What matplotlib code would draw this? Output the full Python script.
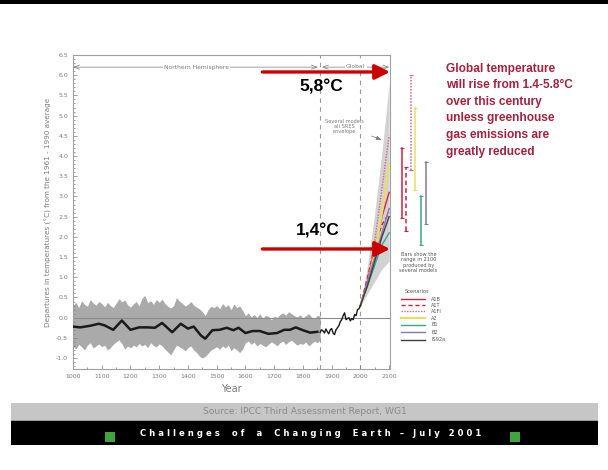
import numpy as np
import matplotlib.pyplot as plt
from matplotlib.patches import Rectangle

# Northern Hemisphere proxy reconstruction, 1000-1860 (decadal uncertainty band)
band_years = np.arange(1000, 1861, 10)
band_upper = [0.30, 0.38, 0.25, 0.42, 0.33, 0.28, 0.45, 0.36, 0.31, 0.40,
              0.35, 0.27, 0.38, 0.30, 0.25, 0.36, 0.47, 0.39, 0.44, 0.32,
              0.26, 0.34, 0.40, 0.29, 0.48, 0.55, 0.37, 0.42, 0.33, 0.45,
              0.38, 0.46, 0.35, 0.28, 0.24, 0.30, 0.50, 0.41, 0.36, 0.29,
              0.33, 0.40, 0.31, 0.26, 0.22, 0.15, 0.05, 0.20, 0.28, 0.25,
              0.30, 0.22, 0.35, 0.27, 0.32, 0.20, 0.34, 0.25, 0.29, 0.18,
              0.05, 0.12, 0.02, 0.08, 0.00, 0.10, -0.02, 0.06, 0.03, -0.05,
              0.04, 0.00, 0.08, 0.12, 0.06, 0.15, 0.10, 0.05, 0.02, 0.07,
              0.00, 0.05, 0.10, 0.02, -0.03, 0.06, 0.04]
band_lower = [-0.70, -0.78, -0.66, -0.72, -0.80, -0.68, -0.62, -0.75, -0.70, -0.65,
              -0.72, -0.68, -0.80, -0.74, -0.66, -0.60, -0.55, -0.64, -0.78, -0.70,
              -0.75, -0.68, -0.72, -0.64, -0.70, -0.66, -0.74, -0.62, -0.69, -0.72,
              -0.65, -0.70, -0.78, -0.85, -0.92, -0.80, -0.68, -0.72, -0.76, -0.82,
              -0.74, -0.70, -0.80, -0.86, -0.95, -1.00, -0.96, -0.88, -0.80, -0.76,
              -0.72, -0.78, -0.70, -0.75, -0.68, -0.82, -0.74, -0.80, -0.86, -0.78,
              -0.62, -0.58, -0.66, -0.60, -0.70, -0.64, -0.68, -0.72, -0.66, -0.60,
              -0.64, -0.70, -0.62, -0.58, -0.66, -0.60, -0.56, -0.62, -0.68, -0.64,
              -0.66, -0.60, -0.70, -0.64, -0.58, -0.62, -0.55]

# smoothed reconstruction
proxy_years = [1000, 1025, 1060, 1090, 1110, 1140, 1170, 1200, 1230, 1260, 1285,
               1310, 1345, 1375, 1400, 1420, 1445, 1460, 1485, 1510, 1535, 1558,
               1576, 1600, 1625, 1650, 1680, 1710, 1735, 1755, 1775, 1800, 1825, 1850]
proxy_smooth = [-0.22, -0.24, -0.20, -0.15, -0.19, -0.30, -0.07, -0.30, -0.24, -0.24,
                -0.25, -0.13, -0.36, -0.15, -0.27, -0.22, -0.44, -0.52, -0.31, -0.30,
                -0.25, -0.31, -0.25, -0.38, -0.33, -0.33, -0.40, -0.38, -0.30, -0.30,
                -0.24, -0.31, -0.37, -0.35]

# instrumental record
inst_years = np.arange(1860, 2001, 5)
inst_temp = [-0.36, -0.30, -0.33, -0.38, -0.28, -0.35, -0.40, -0.30, -0.27, -0.38,
             -0.42, -0.30, -0.25, -0.20, -0.10, -0.05, 0.05, 0.12, -0.05, -0.02,
             0.00, -0.08, -0.02, -0.05, 0.08, 0.05, 0.20, 0.22, 0.30]

# SRES projections
proj_years = [2000, 2025, 2050, 2075, 2100]
envelope_low = [0.30, 0.60, 0.90, 1.20, 1.40]
envelope_high = [0.30, 1.30, 2.60, 4.10, 5.80]
scenarios = ["A1B", "A1T", "A1FI", "A2", "B1", "B2", "IS92a"]
proj = {
    "A1B":   [0.30, 0.90, 1.70, 2.50, 3.10],
    "A1T":   [0.30, 1.00, 1.80, 2.30, 2.60],
    "A1FI":  [0.30, 0.90, 1.90, 3.20, 4.50],
    "A2":    [0.30, 0.80, 1.60, 2.60, 3.80],
    "B1":    [0.30, 0.80, 1.30, 1.80, 2.10],
    "B2":    [0.30, 0.90, 1.50, 2.10, 2.70],
    "IS92a": [0.30, 0.80, 1.40, 2.00, 2.50],
}
# model ranges in 2100 (bars)
bar_names = ["A1B", "A1T", "A1FI", "A2", "B1", "B2"]
bar_low = [2.47, 2.14, 3.65, 3.16, 1.80, 2.32]
bar_high = [4.20, 3.73, 6.00, 5.19, 3.01, 3.85]

colors = {"A1B": "#d4213d", "A1T": "#c8203c", "A1FI": "#d86090", "A2": "#e6de6a",
          "B1": "#3aa88a", "B2": "#8878b0", "IS92a": "#404040"}
styles = {"A1B": "-", "A1T": (0, (3, 2)), "A1FI": (0, (1, 1)), "A2": "-",
          "B1": "-", "B2": "-", "IS92a": "-"}

grey = "#7a7a7a"

fig = plt.figure(figsize=(6.08, 4.70), dpi=100)
ax = fig.add_axes([73/608, 1-369/470, 317/608, 314/470])

ax.fill_between(band_years, band_lower, band_upper, color="#aaaaaa", lw=0)
ax.axhline(0, color="#8c8c8c", lw=0.8, zorder=2)
for yr in (1860, 2000):
    ax.axvline(yr, color="#9a9a9a", lw=0.8, ls=(0, (4, 4)), zorder=1)

ax.fill_between(proj_years, envelope_low, envelope_high, color="#d2d2d2", lw=0, zorder=2)
for s in scenarios:
    ax.plot(proj_years, proj[s], color=colors[s], ls=styles[s],
            lw=1.6 if s == "A2" else 1.0, zorder=3)

ax.plot(proxy_years, proxy_smooth, color="#1a1a1a", lw=1.8, zorder=4,
        solid_joinstyle="round")
ax.plot(inst_years, inst_temp, color="#1a1a1a", lw=1.0, zorder=4)

ax.set_xlim(1000, 2103)
ax.set_ylim(-1.27, 6.5)
ax.set_xticks(np.arange(1000, 2101, 100))
ax.set_xticks(np.arange(1000, 2101, 50), minor=True)
ax.set_yticks(np.arange(-1.0, 6.51, 0.5))
ax.set_yticks(np.arange(-1.2, 6.51, 0.1), minor=True)
ax.yaxis.set_major_formatter(plt.FormatStrFormatter("%.1f"))
ax.tick_params(which="both", direction="in", color=grey, labelsize=4.5,
               labelcolor=grey, width=0.5)
ax.tick_params(which="major", length=3)
ax.tick_params(which="minor", length=1.5)
for sp in ax.spines.values():
    sp.set_color("#a0a0a0")
    sp.set_linewidth(0.8)
ax.set_xlabel("Year", fontsize=7, color=grey, labelpad=4)
ax.set_ylabel("Departures in temperatures (\u00b0C) from the 1961 - 1990 average",
              fontsize=5.2, color=grey, labelpad=3)

# region arrows along the top
arr = dict(arrowstyle="<->,head_length=0.4,head_width=0.15", color=grey, lw=0.5,
           shrinkA=0, shrinkB=0)
ax.annotate("", xy=(1000, 6.2), xytext=(1852, 6.2), arrowprops=arr)
ax.annotate("", xy=(1866, 6.2), xytext=(2100, 6.2), arrowprops=arr)
ax.text(1430, 6.2, "Northern Hemisphere", fontsize=4.3, color=grey, ha="center",
        va="center", bbox=dict(fc="white", ec="none", pad=1))
ax.text(1983, 6.22, "Global", fontsize=4.3, color=grey, ha="center", va="center",
        bbox=dict(fc="white", ec="none", pad=1))

ax.text(1944, 4.72, "Several models\nall SRES\nenvelope", fontsize=3.6, color=grey,
        ha="center", va="center", linespacing=1.0)
ax.annotate("", xy=(2082, 4.38), xytext=(2029, 4.52),
            arrowprops=dict(arrowstyle="-|>,head_length=0.3,head_width=0.12",
                            color=grey, lw=0.5))

# model ranges in 2100
bar_x = [2145, 2159, 2176, 2190, 2211, 2229]
for name, bx, lo, hi in zip(bar_names, bar_x, bar_low, bar_high):
    ax.plot([bx, bx], [lo, hi], color=colors[name], ls=styles[name], lw=1.1,
            clip_on=False)
    ax.plot([bx, bx], [lo, hi], ls="none", marker="_", ms=3, mew=0.8,
            color=colors[name], clip_on=False)

ax.text(2202, 1.62, "Bars show the\nrange in 2100\nproduced by\nseveral models",
        fontsize=3.6, color="#555555", ha="center", va="top", linespacing=1.05)

# scenario key
ax.text(2195, 0.66, "Scenarios", fontsize=3.6, color="#555555", ha="center",
        va="center")
key_y = [0.46, 0.31, 0.16, -0.01, -0.18, -0.36, -0.55]
for s, ky in zip(scenarios, key_y):
    ax.plot([2143, 2226], [ky, ky], color=colors[s], ls=styles[s],
            lw=1.6 if s == "A2" else 1.0, clip_on=False)
    ax.text(2247, ky, s, fontsize=3.6, color="#555555", va="center")

# red arrows marking the 2100 range
red_arrow = dict(arrowstyle="-|>,head_length=0.9,head_width=0.45", color="#cc0000",
                 lw=2.4, shrinkA=0, shrinkB=0)
ax.annotate("", xy=(2103, 6.08), xytext=(1659, 6.08), arrowprops=red_arrow,
            annotation_clip=False)
ax.annotate("", xy=(2103, 1.70), xytext=(1659, 1.70), arrowprops=red_arrow,
            annotation_clip=False)
ax.text(1865, 5.7, "5,8\u00b0C", fontsize=12.5, fontweight="bold",
        family="Liberation Sans", ha="center", va="center")
ax.text(1852, 2.15, "1,4\u00b0C", fontsize=12.5, fontweight="bold",
        family="Liberation Sans", ha="center", va="center")

fig.text(446/608, 1-63/470,
         "Global temperature\nwill rise from 1.4-5.8\u00b0C\nover this century\n"
         "unless greenhouse\ngas emissions are\ngreatly reduced",
         fontsize=8.6, fontweight="bold", family="Liberation Sans",
         color="#a3223f", ha="left", va="top", linespacing=1.5)

# slide frame and footer
fig.add_artist(Rectangle((0, 1-4/470), 1, 4/470, transform=fig.transFigure,
                         fc="black", ec="none"))
fig.add_artist(Rectangle((11/608, 1-421/470), 587/608, 18/470,
                         transform=fig.transFigure, fc="#c6c6c6", ec="none"))
fig.add_artist(Rectangle((11/608, 1-421/470), 587/608, 1.5/470,
                         transform=fig.transFigure, fc="#9a9a9a", ec="none"))
fig.add_artist(Rectangle((11/608, 1-445/470), 587/608, 24/470,
                         transform=fig.transFigure, fc="black", ec="none"))
for gx in (105, 510):
    fig.add_artist(Rectangle((gx/608, 1-442/470), 10/608, 10/470,
                             transform=fig.transFigure, fc="#3fa33f", ec="none"))
fig.text(305/608, 1-412/470, "Source: IPCC Third Assessment Report, WG1",
         fontsize=6.6, color="#8a8a8a", ha="center", va="center")
fig.text(311/608, 1-434/470,
         "C h a l l e n g e s    o f    a    C h a n g i n g    E a r t h   \u2013   J u l y   2 0 0 1",
         fontsize=6.1, fontweight="bold", color="white", ha="center", va="center")

plt.savefig("out.png", dpi=100)
plt.close(fig)
